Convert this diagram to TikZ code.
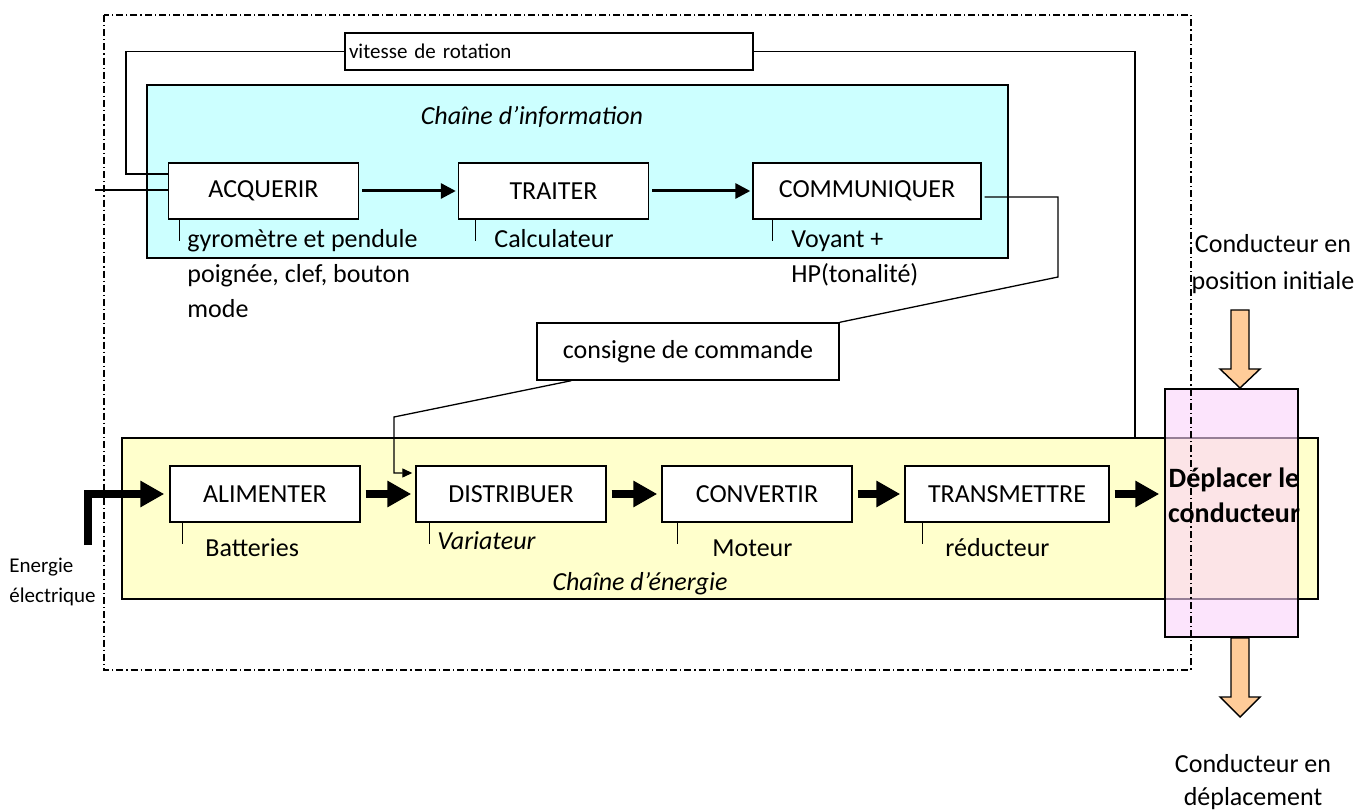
\documentclass[tikz,border=0pt]{standalone}
\usepackage{fontspec}
\setmainfont{Carlito}
\usetikzlibrary{arrows.meta,calc}

\definecolor{infokleur}{RGB}{204,255,255}
\definecolor{energiekleur}{RGB}{255,255,204}
\definecolor{roze}{RGB}{250,210,250}
\definecolor{oranje}{RGB}{255,204,153}

\tikzstyle{kader} = [draw, line width=0.7pt, inner sep=0pt]
\tikzstyle{blok} = [kader, fill=white, minimum width=95pt, minimum height=28pt, font=\fontsize{13}{16}\selectfont]
\tikzstyle{notitie} = [anchor=base west, inner sep=0pt, align=left, font=\fontsize{13}{17.5}\selectfont]
\tikzstyle{klein} = [anchor=base west, inner sep=0pt, align=left, font=\fontsize{10.5}{14.5}\selectfont]
\tikzstyle{titel} = [anchor=base, inner sep=0pt, font=\itshape\fontsize{13}{16}\selectfont]
\tikzstyle{pijl} = [line width=1.5pt, -{Triangle[length=7.5pt,width=7.5pt]}]
\tikzstyle{dikpijl} = [line width=4pt, -{Triangle[length=12pt,width=12.5pt]}]
\tikzstyle{dunpijl} = [line width=0.65pt, -{Triangle[length=5pt,width=4.5pt]}]
\tikzstyle{lijn} = [line width=0.65pt]
\tikzstyle{streeppunt} = [line width=0.7pt, dash pattern=on 3.5pt off 1.5pt on 0.6pt off 1.5pt]

\begin{document}
\begin{tikzpicture}[x=0.5pt, y=-0.5pt]
\useasboundingbox (0,0) rectangle (1371,812);
%chaine d'information
\node[kader, fill=infokleur, minimum width=430.5pt, minimum height=86.5pt] (info) at (577.5,171.5) {};
\node[titel] (infotitel) at (532,125) {Chaîne d’information};
\node[blok] (acq) at (263.5,191) {ACQUERIR};
\node[blok] (trait) at (553.5,191) {TRAITER};
\node[blok, minimum width=114pt] (com) at (867,191) {COMMUNIQUER};
\draw[pijl, shorten <=1.5pt, shorten >=1pt] (acq) -- (trait);
\draw[pijl, shorten <=1.5pt, shorten >=1pt] (trait) -- (com);
% base = laatste regel
\node[notitie] (lacq) at (187,318) {gyromètre et pendule\\poignée, clef, bouton\\mode};
\node[notitie] (ltrait) at (494,248) {Calculateur};
\node[notitie] (lcom) at (791,283) {Voyant +\\HP(tonalité)};
%end chaine d'information

%retour vitesse
\node[kader, fill=white, text width=200pt, inner xsep=2pt, minimum height=18.5pt, align=left, font=\fontsize{10.5}{12}\selectfont] (vit) at (549,51.5) {vitesse de rotation};
\coordinate (retourG) at (126,174);
\coordinate (retourD) at (1135,457);
\coordinate (entree) at (95,190);
\draw[lijn] (vit.west) -| (retourG) -- (retourG -| acq.west);
\draw[lijn] (vit.east) -| (retourD);
\draw[lijn] (entree) -- (entree -| acq.west);

%consigne
\node[blok, minimum width=151pt, minimum height=28.5pt] (cons) at (688,351.5) {consigne de commande};
\coordinate (c1) at (1058,197);
\coordinate (c2) at (1058,277);
\coordinate (c3) at (394,417);
\coordinate (c4) at (394,473);
\draw[lijn] ($(c1 -| com.east)+(3,0)$) -- (c1) -- (c2) -- (cons.north east);

%chaine d'energie
\node[kader, fill=energiekleur, minimum width=598pt, minimum height=80.5pt] (energie) at (720,518.5) {};
\node[titel] (energietitel) at (640,590) {Chaîne d’énergie};
\node[blok] (alim) at (265,494) {ALIMENTER};
\node[blok] (dist) at (511,494) {DISTRIBUER};
\node[blok] (conv) at (757,494) {CONVERTIR};
\node[blok, minimum width=102pt] (trans) at (1007,494) {TRANSMETTRE};
\node[notitie] (lalim) at (205,556) {Batteries};
\node[notitie] (ldist) at (437,549) {\itshape Variateur};
\node[notitie] (lconv) at (712,556) {Moteur};
\node[notitie] (ltrans) at (945,556) {réducteur};
\draw[dunpijl, shorten >=1.5pt] ($(cons.south west)+(35,0)$) -- (c3) -- (c4) -- (c4 -| dist.west);
\draw[dikpijl, shorten <=2.5pt, shorten >=2pt] (alim) -- (dist);
\draw[dikpijl, shorten <=2.5pt, shorten >=2pt] (dist) -- (conv);
\draw[dikpijl, shorten <=2.5pt, shorten >=2pt] (conv) -- (trans);
%end chaine d'energie

%streepjes onder de blokken
\foreach \b/\dx in {acq/12,trait/18,com/20,alim/13,dist/14,conv/16,trans/18}
  \draw[lijn] ($(\b.south west)+(\dx,0)$) -- ++(0,21);

%sources
\coordinate (ebron) at (88,545);
\draw[dikpijl, line join=miter, shorten >=2.5pt] (ebron) |- (alim.west);
\node[klein] (lebron) at (9,602) {Energie\\électrique};

%deplacer le conducteur
\node[kader, fill=roze, fill opacity=0.6, minimum width=66.5pt, minimum height=124pt] (dep) at (1231.5,513) {};
\node[anchor=base, inner sep=0pt, align=center, font=\bfseries\fontsize{14}{17.5}\selectfont] (deptekst) at (1234,523) {Déplacer le\\conducteur};
\draw[dikpijl, shorten <=2.5pt, shorten >=2.5pt] (trans.east) -- (trans.east -| dep.west);
\draw[kader, fill=oranje] (1231,310) -- (1249,310) -- (1249,369) -- (1260,369) -- (1240,388) -- (1220,369) -- (1231,369) -- cycle;
\draw[kader, fill=oranje] (1231,638) -- (1249,638) -- (1249,697) -- (1260,697) -- (1240,717) -- (1220,697) -- (1231,697) -- cycle;
\node[notitie, anchor=base, align=center, font=\fontsize{13}{18.5}\selectfont] (cinit) at (1273,290) {Conducteur en\\position initiale};
\node[notitie, anchor=base, align=center, font=\fontsize{13}{16.5}\selectfont] (cdepl) at (1253,805) {Conducteur en\\déplacement};

%cadre
\draw[streeppunt] (104,15) rectangle (1191,670);
\end{tikzpicture}
\end{document}
